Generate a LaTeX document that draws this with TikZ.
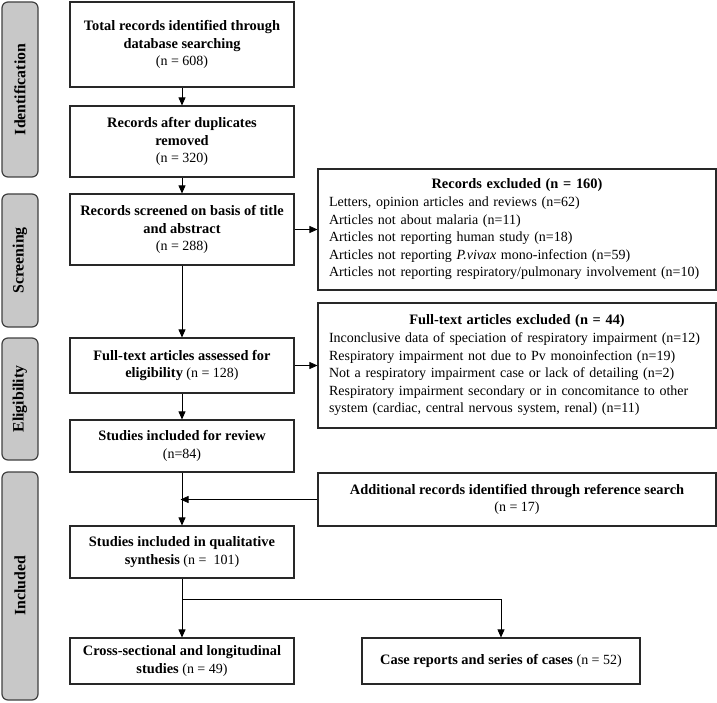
\documentclass[tikz,border=0pt]{standalone}
\usepackage{fontspec}
\setmainfont{Liberation Serif}
\usetikzlibrary{arrows.meta,positioning,calc}
\definecolor{STAGE-GRAY}{RGB}{200,200,200}
\definecolor{EDGE-GRAY}{RGB}{64,64,64}
\definecolor{BOX-EDGE}{RGB}{40,40,40}
\newcommand{\hd}[1]{{\fontsize{14.4}{17.6}\selectfont\bfseries #1}}

\tikzset{
  txt/.style={font=\fontsize{14}{17.6}\selectfont},
  stage/.style={draw=EDGE-GRAY, fill=STAGE-GRAY, line width=1.2pt,
    rounded corners=6pt, rotate=90, minimum height=36pt, inner sep=0pt,
    font=\fontsize{15.8}{18}\selectfont\bfseries},
  flowbox/.style={txt, draw=BOX-EDGE, line width=1.1pt, fill=white,
    align=center, inner sep=2pt, minimum width=224pt},
  listbox/.style={txt, draw=BOX-EDGE, line width=1.1pt, fill=white,
    align=left, text width=376pt, inner xsep=11pt, inner ysep=2pt},
  flow/.style={-{Triangle[length=8pt,width=7pt]}, line width=0.8pt},
}

\begin{document}
\begin{tikzpicture}[x=1pt,y=-1pt]
  \useasboundingbox (0,0) rectangle (717,703);

  % Stage bars on the left
  \node[stage, minimum width=175pt] (ident)  at (20,89.5)  {Identification};
  \node[stage, minimum width=133pt] (screen) at (20,260.5) {Screening};
  \node[stage, minimum width=122pt] (elig)   at (20,399)   {Eligibility};
  \node[stage, minimum width=228pt] (incl)   at (20,586)   {Included};

  % Main flow
  \node[flowbox, minimum height=85pt] (total) at (182,44.5)
    {\hd{Total records identified through}\\\hd{database searching}\\(n = 608)};
  \node[flowbox, minimum height=71pt] (dedup) at (182,141.5)
    {\hd{Records after duplicates}\\\hd{removed}\\(n = 320)};
  \node[flowbox, minimum height=71pt] (screened) at (182,229.5)
    {\hd{Records screened on basis of title}\\\hd{and abstract}\\(n = 288)};
  \node[flowbox, minimum height=55pt] (fulltext) at (182,365.5)
    {\hd{Full-text articles assessed for}\\\hd{eligibility} (n = 128)};
  \node[flowbox, minimum height=52pt] (review) at (182,446)
    {\hd{Studies included for review}\\(n=84)};
  \node[flowbox, minimum height=52pt] (qualit) at (182,552)
    {\hd{Studies included in qualitative}\\\hd{synthesis} (n =\ \ 101)};
  \node[flowbox, minimum height=46pt] (cross) at (182,661)
    {\hd{Cross-sectional and longitudinal}\\\hd{studies} (n = 49)};
  \node[flowbox, minimum width=278pt, minimum height=46pt] (cases) at (501,661)
    {\hd{Case reports and series of cases} (n = 52)};

  % Side boxes
  \node[listbox, minimum height=121pt] (excl1) at (517,229.5)
    {\makebox[\linewidth][c]{\hd{Records excluded (n = 160)}}\\
     Letters, opinion articles and reviews (n=62)\\
     Articles not about malaria (n=11)\\
     Articles not reporting human study (n=18)\\
     Articles not reporting \textit{P.vivax} mono-infection (n=59)\\
     Articles not reporting respiratory/pulmonary involvement (n=10)};
  \node[listbox, minimum height=125pt] (excl2) at (517,365.5)
    {\makebox[\linewidth][c]{\hd{Full-text articles excluded (n = 44)}}\\
     Inconclusive data of speciation of respiratory impairment (n=12)\\
     Respiratory impairment not due to Pv monoinfection (n=19)\\
     Not a respiratory impairment case or lack of detailing (n=2)\\
     Respiratory impairment secondary or in concomitance to other\\
     system (cardiac, central nervous system, renal) (n=11)};
  \node[flowbox, minimum width=398pt, minimum height=53pt] (extra) at (517,499.5)
    {\hd{Additional records identified through reference search}\\(n = 17)};

  % Connectors
  \draw[flow] (total) -- (dedup);
  \draw[flow] (dedup) -- (screened);
  \draw[flow] (screened) -- (fulltext);
  \draw[flow] (fulltext) -- (review);
  \draw[flow] (review) -- (qualit);
  \draw[flow] (qualit) -- (cross);
  \draw[flow] (screened) -- (excl1);
  \draw[flow] (fulltext) -- (excl2);
  \draw[flow, line width=0.6pt, shorten >=-1.5pt] (extra.west) -- (extra.west -| review.south);
  \coordinate (split) at (182,599);
  \draw[flow, line width=0.6pt] (split) -| (cases.north);
\end{tikzpicture}
\end{document}
